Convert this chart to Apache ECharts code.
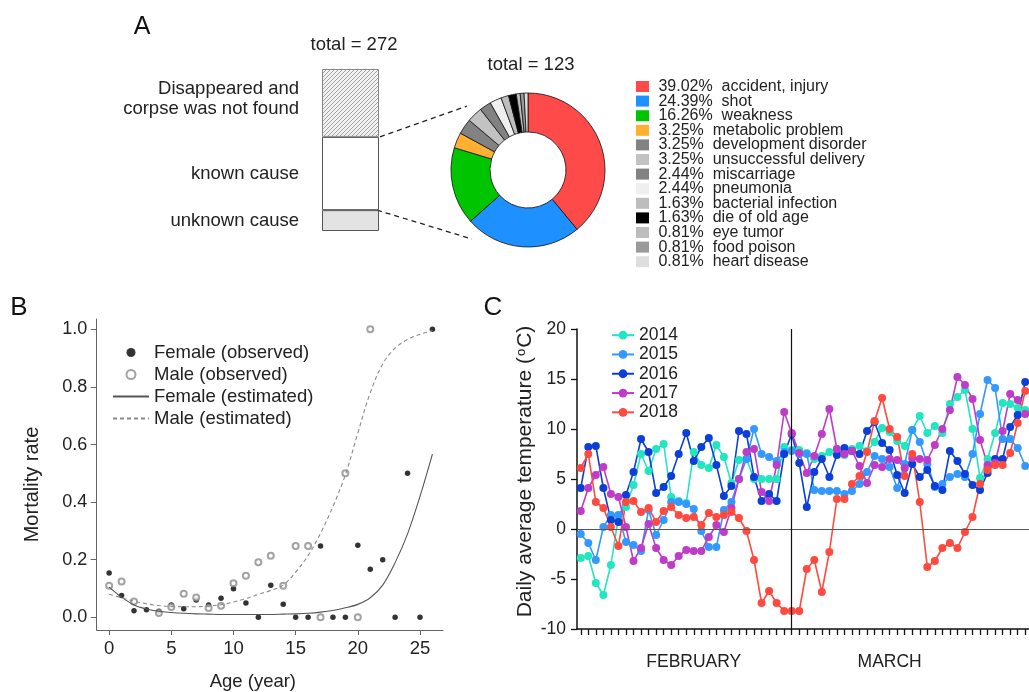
<!DOCTYPE html>
<html><head><meta charset="utf-8">
<script src="https://cdn.jsdelivr.net/npm/echarts@6/dist/echarts.min.js"></script>
<style>html,body{margin:0;padding:0;background:#fff}#c{width:1029px;height:692px}</style>
</head><body><div id="c"></div>
<script>
// ---------- Panel A data ----------
const fateNames = ['unknown cause', 'known cause', 'Disappeared and\ncorpse was not found'];
const fateCounts = [35, 123, 114];
const causeNames = ['accident, injury', 'shot', 'weakness', 'metabolic problem', 'development disorder',
  'unsuccessful delivery', 'miscarriage', 'pneumonia', 'bacterial infection', 'die of old age',
  'eye tumor', 'food poison', 'heart disease'];
const causePct = ['39.02%', '24.39%', '16.26%', '3.25%', '3.25%', '3.25%', '2.44%', '2.44%', '1.63%', '1.63%', '0.81%', '0.81%', '0.81%'];
const causeCounts = [48, 30, 20, 4, 4, 4, 3, 3, 2, 2, 1, 1, 1];
const causeColors = ['#ff4a4a', '#1e90ff', '#00c400', '#ffb032', '#828282', '#c2c2c2', '#828282', '#efefef', '#bdbdbd', '#000000', '#bdbdbd', '#9a9a9a', '#dedede'];

// ---------- Panel B data ----------
const femaleAges = [0, 1, 2, 3, 4, 5, 6, 7, 8, 9, 10, 11, 12, 13, 14, 15, 16, 17, 18, 19, 20, 21, 22, 23, 24, 25, 26];
const femaleRates = [0.154, 0.076, 0.023, 0.026, 0.021, 0.043, 0.030, 0.060, 0.043, 0.066, 0.099, 0.050, 0, 0.111, 0.045, 0, 0, 0.248, 0, 0, 0.25, 0.167, 0.2, 0, 0.5, 0, 1.0];
const maleAges = [0, 1, 2, 4, 5, 6, 7, 8, 9, 10, 11, 12, 13, 14, 15, 16, 17, 19, 20, 21];
const maleRates = [0.110, 0.124, 0.055, 0.015, 0.036, 0.082, 0.069, 0.032, 0.040, 0.118, 0.144, 0.191, 0.214, 0.110, 0.248, 0.248, 0, 0.5, 0, 1.0];
const curveAges = [0, 1, 2, 3, 4, 5, 6, 7, 8, 9, 10, 11, 12, 13, 14, 15, 16, 17, 18, 19, 20, 21, 22, 23, 24, 25, 26];
const femaleEst = [0.105, 0.070, 0.043, 0.029, 0.021, 0.017, 0.014, 0.012, 0.011, 0.010, 0.010, 0.010, 0.010, 0.010, 0.011, 0.012, 0.014, 0.018, 0.024, 0.033, 0.045, 0.068, 0.112, 0.190, 0.290, 0.420, 0.567];
const maleEst = [0.080, 0.068, 0.056, 0.047, 0.041, 0.038, 0.037, 0.037, 0.039, 0.044, 0.053, 0.065, 0.080, 0.093, 0.112, 0.157, 0.215, 0.292, 0.385, 0.495, 0.640, 0.780, 0.880, 0.935, 0.965, 0.983, 0.995];
const bAgeTicks = [0, 5, 10, 15, 20, 25];
const bRateTicks = [0, 0.2, 0.4, 0.6, 0.8, 1];

// ---------- Panel C data ----------
const dayLabels = [];
for (let d = 1; d <= 29; d++) dayLabels.push('Feb ' + d);
for (let d = 1; d <= 31; d++) dayLabels.push('Mar ' + d);
const monthLabels = ['FEBRUARY', 'MARCH'];
const monthLabelDays = ['Feb 16', 'Mar 13'];
const monthSeparator = 'Feb 29';
const years = ['2014', '2015', '2016', '2017', '2018'];
const t2014 = [-2.9, -2.7, -5.4, -6.6, -3.6, 1.2, 2.2, 4.4, 7.5, 5.8, 8.0, 8.5, 3.2, 2.8, 2.6, 7.7, 6.4, 6.1, 8.4, 7.2, 4.6, 6.9, 7.0, 5.0, 5.0, 5.0, 5.0, 8.2, 7.9, 7.9, 7.6, 7.0, 7.3, 7.7, 8.0, 7.4, 8.0, 8.3, 7.8, 8.7, 10.1, 9.7, 8.8, 8.3, 9.9, 11.3, 9.6, 10.3, 9.6, 12.5, 13.2, 13.9, 10.0, 5.1, 7.0, 9.6, 12.6, 12.5, 12.1, 11.9];
const t2015 = [-0.5, -1.4, -3.1, 0.2, 1.4, 1.4, -1.3, -1.6, -2.2, 1.9, -0.6, 0.9, 2.7, 2.7, 2.5, 2.0, -0.2, -1.8, -1.8, 1.9, 2.7, 5.0, 7.0, 10.0, 7.5, 7.2, 6.8, 7.7, 7.8, 7.5, 7.5, 3.9, 3.8, 3.8, 3.8, 3.5, 3.8, 4.5, 5.7, 7.3, 7.0, 6.2, 4.1, 6.5, 9.9, 8.7, 6.5, 4.2, 4.5, 5.2, 5.5, 5.2, 7.5, 11.5, 14.9, 14.1, 9.0, 9.0, 8.1, 6.3];
const t2016 = [4.1, 8.2, 8.3, 4.1, 0.9, 0.7, 3.4, 5.7, 9.0, 7.7, 3.6, 4.2, 5.3, 7.5, 9.6, 6.8, 8.2, 9.1, 6.4, 3.3, 4.3, 9.8, 9.5, 5.2, 2.8, 3.5, 2.8, 7.5, 9.5, 6.6, 2.2, 5.7, 7.0, 5.2, 7.4, 8.1, 7.8, 7.5, 9.8, 10.7, 8.6, 7.9, 5.4, 3.6, 6.5, 5.2, 5.9, 4.3, 3.9, 7.8, 6.8, 5.5, 4.4, 3.9, 5.6, 7.0, 7.0, 10.2, 11.4, 14.7];
const t2017 = [1.8, 4.1, 5.4, 6.2, 3.5, 3.2, 0.2, -3.2, -1.9, 0.5, -1.9, -3.1, -3.6, -2.7, -2.1, -2.2, -2.2, -0.8, 0.4, -0.3, 2.1, 5.0, 7.7, 8.0, 3.7, 2.8, 6.4, 11.7, 9.6, 7.6, 5.6, 7.3, 9.5, 12.0, 8.0, 7.5, 7.8, 6.3, 4.6, 6.4, 6.2, 7.0, 6.9, 6.1, 7.1, 7.0, 6.9, 8.4, 10.0, 11.9, 15.2, 14.4, 13.0, 8.9, 6.4, 6.6, 9.8, 13.5, 12.9, 11.5];
const t2018 = [6.1, 7.5, 2.7, 2.1, 0.2, -1.7, 2.7, 2.8, 1.7, 2.1, 0.7, 1.8, 2.2, 1.4, 1.1, 1.2, 0.4, 1.6, 1.2, 1.4, 1.7, 1.1, -0.2, -3.1, -7.4, -6.2, -7.4, -8.2, -8.2, -8.2, -4.0, -3.1, -6.3, -2.3, 3.0, 3.0, 4.5, 5.3, 7.7, 10.8, 13.1, 10.0, 9.2, 5.3, 7.5, 2.7, -3.8, -3.2, -1.9, -1.4, -1.9, -0.3, 1.2, 4.5, 5.9, 6.4, 6.4, 7.6, 10.6, 13.8];
const tempSeries = [t2014, t2015, t2016, t2017, t2018];
const yearColors = ['#22e6bf', '#3399ff', '#0b3fd8', '#bf3cc9', '#ff4a40'];

// ---------- style ----------
const FONT = "'Liberation Sans', Arial, Helvetica, sans-serif";
const TXT = '#222';

const hatch = document.createElement('canvas');
hatch.width = 4; hatch.height = 4;
(function () {
  const g = hatch.getContext('2d');
  g.fillStyle = '#f1f1f1'; g.fillRect(0, 0, 4, 4);
  g.strokeStyle = '#a3a3a3'; g.lineWidth = 1;
  g.beginPath();
  g.moveTo(0, 4); g.lineTo(4, 0);
  g.moveTo(-2, 2); g.lineTo(2, -2);
  g.moveTo(2, 6); g.lineTo(6, 2);
  g.stroke();
})();
const fateStyles = [
  { color: '#e3e3e3', borderColor: '#555', borderWidth: 1 },
  { color: '#ffffff', borderColor: '#555', borderWidth: 1 },
  { color: { image: hatch, repeat: 'repeat' }, borderColor: '#888', borderWidth: 1 }
];

const chart = echarts.init(document.getElementById('c'), null, { renderer: 'canvas' });

const series = [];
// Panel A bar
fateNames.forEach((n, i) => {
  series.push({
    type: 'bar', name: n, stack: 'fate', xAxisIndex: 0, yAxisIndex: 0,
    barWidth: '100%', silent: true,
    data: [fateCounts[i]],
    itemStyle: fateStyles[i],
    label: {
      show: true, position: 'left', distance: 23, formatter: n,
      fontSize: 18.5, lineHeight: 20, color: TXT, fontFamily: FONT, align: 'right',
      offset: i === 2 ? [0, -4] : [0, 0]
    }
  });
});
// Panel A donut
series.push({
  type: 'pie', name: 'causes', center: [528, 170], radius: [38, 77],
  startAngle: 90, clockwise: true, silent: true,
  label: { show: false }, labelLine: { show: false },
  itemStyle: { borderColor: '#111', borderWidth: 0.8 },
  data: causeNames.map((n, i) => ({ name: n, value: causeCounts[i], itemStyle: { color: causeColors[i] } }))
});
// Panel B
series.push({
  type: 'line', name: 'Female (estimated)', xAxisIndex: 1, yAxisIndex: 1,
  data: curveAges.map((a, i) => [a, femaleEst[i]]),
  smooth: 0.35, symbol: 'none', silent: true,
  lineStyle: { color: '#555', width: 1.1 }, itemStyle: { color: '#555' }
});
series.push({
  type: 'line', name: 'Male (estimated)', xAxisIndex: 1, yAxisIndex: 1,
  data: curveAges.map((a, i) => [a, maleEst[i]]),
  smooth: 0.35, symbol: 'none', silent: true,
  lineStyle: { color: '#8a8a8a', width: 1.1, type: [4, 3] }, itemStyle: { color: '#8a8a8a' }
});
series.push({
  type: 'scatter', name: 'Female (observed)', xAxisIndex: 1, yAxisIndex: 1,
  data: femaleAges.map((a, i) => [a, femaleRates[i]]),
  symbol: 'circle', symbolSize: 5.5, silent: true, itemStyle: { color: '#000' }
});
series.push({
  type: 'scatter', name: 'Male (observed)', xAxisIndex: 1, yAxisIndex: 1,
  data: maleAges.map((a, i) => [a, maleRates[i]]),
  symbol: 'emptyCircle', symbolSize: 6, silent: true, itemStyle: { color: '#8c8c8c', borderWidth: 1 }
});
// Panel C
years.forEach((y, k) => {
  const s = {
    type: 'line', name: y, xAxisIndex: 2, yAxisIndex: 2,
    data: tempSeries[k], symbol: 'circle', symbolSize: 8, showAllSymbol: true, silent: true,
    lineStyle: { color: yearColors[k], width: 1.6 }, itemStyle: { color: yearColors[k] }
  };
  if (k === 0) {
    s.markLine = {
      silent: true, symbol: ['none', 'none'], label: { show: false },
      data: [
        { yAxis: 0, lineStyle: { color: '#555', width: 1.2, type: 'solid' } },
        { xAxis: monthSeparator, lineStyle: { color: '#111', width: 1.2, type: 'solid' } }
      ]
    };
  }
  series.push(s);
});

const option = {
  animation: false,
  backgroundColor: '#fff',
  textStyle: { fontFamily: FONT },
  grid: [
    { left: 322, top: 69, width: 57, height: 162 },
    { left: 96.7, top: 319, width: 346.3, height: 312.7 },
    { left: 577, top: 329, width: 454.2, height: 300 }
  ],
  xAxis: [
    { gridIndex: 0, type: 'category', data: ['all'], show: false },
    {
      gridIndex: 1, type: 'value', min: -1.0, max: 26.85,
      axisLine: { show: true, onZero: false, lineStyle: { color: '#666', width: 1 } },
      axisTick: { show: true, length: 5, customValues: bAgeTicks, lineStyle: { color: '#666' } },
      axisLabel: { customValues: bAgeTicks, fontSize: 18.5, color: TXT, margin: 9, fontFamily: FONT },
      splitLine: { show: false },
      name: 'Age (year)', nameLocation: 'middle', nameGap: 42,
      nameTextStyle: { fontSize: 18.5, color: TXT, fontFamily: FONT, padding: [0, 34, 0, 0] }
    },
    {
      gridIndex: 2, type: 'category', data: dayLabels, boundaryGap: true,
      axisLine: { show: true, onZero: false, lineStyle: { color: '#111', width: 1.5 } },
      axisTick: { show: true, alignWithLabel: true, interval: 0, length: 6, lineStyle: { color: '#111', width: 1.3 } },
      axisLabel: {
        interval: (idx, val) => monthLabelDays.indexOf(val) >= 0,
        formatter: (val) => monthLabels[monthLabelDays.indexOf(val)] || '',
        margin: 24, fontSize: 17.5, color: TXT, fontFamily: FONT
      },
      splitLine: { show: false }
    }
  ],
  yAxis: [
    { gridIndex: 0, type: 'value', min: 0, max: 272, show: false },
    {
      gridIndex: 1, type: 'value', min: -0.044, max: 1.036,
      axisLine: { show: true, onZero: false, lineStyle: { color: '#666', width: 1 } },
      axisTick: { show: true, length: 6, customValues: bRateTicks, lineStyle: { color: '#666' } },
      axisLabel: { customValues: bRateTicks, formatter: (v) => v.toFixed(1), fontSize: 18, color: TXT, margin: 9.4, fontFamily: FONT },
      splitLine: { show: false },
      name: 'Mortality rate', nameLocation: 'middle', nameGap: 54,
      nameTextStyle: { fontSize: 20, color: TXT, fontFamily: FONT, padding: [0, 20, 0, 0] }
    },
    {
      gridIndex: 2, type: 'value', min: -10, max: 20, interval: 5,
      axisLine: { show: true, onZero: false, lineStyle: { color: '#111', width: 1.5 } },
      axisTick: { show: true, length: 6, lineStyle: { color: '#111', width: 1.3 } },
      axisLabel: { fontSize: 17.5, color: TXT, margin: 11, fontFamily: FONT },
      splitLine: { show: false },
      name: 'Daily average temperature ({sup|o}C)', nameLocation: 'middle', nameGap: 39,
      nameTextStyle: {
        fontSize: 21, color: TXT, fontFamily: FONT, padding: [0, 0, 0, 15],
        rich: { sup: { fontSize: 13, color: TXT, fontFamily: FONT, verticalAlign: 'top', lineHeight: 13, padding: [0, 1, 9, 1] } }
      }
    }
  ],
  legend: [
    {
      data: causeNames, orient: 'vertical', left: 631, top: 73.5,
      itemWidth: 13, itemHeight: 11, itemGap: -1.4, icon: 'rect', selectedMode: false,
      itemStyle: { borderWidth: 0 },
      formatter: (n) => ' ' + causePct[causeNames.indexOf(n)] + '  ' + n,
      textStyle: { fontSize: 16, lineHeight: 14.6, color: TXT, fontFamily: FONT }
    },
    {
      data: [
        { name: 'Female (observed)' },
        { name: 'Male (observed)' },
        { name: 'Female (estimated)', itemStyle: { opacity: 0 } },
        { name: 'Male (estimated)', itemStyle: { opacity: 0 } }
      ],
      orient: 'vertical', left: 107, top: 336.5, itemWidth: 36, itemHeight: 9, itemGap: 0, selectedMode: false,
      textStyle: { fontSize: 18.5, lineHeight: 22, color: TXT, fontFamily: FONT }
    },
    {
      data: years, orient: 'vertical', left: 606, top: 320.5, itemWidth: 22, itemHeight: 11, itemGap: 0, selectedMode: false,
      textStyle: { fontSize: 17.5, lineHeight: 19.3, color: TXT, fontFamily: FONT }
    }
  ],
  series: series
};
chart.setOption(option);

// annotations: panel letters, totals, connector lines from bar to donut
const knownTop = chart.convertToPixel({ gridIndex: 0 }, [0, fateCounts[0] + fateCounts[1]])[1];
const knownBottom = chart.convertToPixel({ gridIndex: 0 }, [0, fateCounts[0]])[1];
const barRight = 322 + 57;
chart.setOption({
  graphic: [
    { type: 'text', x: 142, y: 27, style: { text: 'A', fontSize: 25, fontFamily: FONT, fill: '#111', textAlign: 'center', textVerticalAlign: 'middle' } },
    { type: 'text', x: 19, y: 308, style: { text: 'B', fontSize: 26, fontFamily: FONT, fill: '#111', textAlign: 'center', textVerticalAlign: 'middle' } },
    { type: 'text', x: 493, y: 308, style: { text: 'C', fontSize: 26, fontFamily: FONT, fill: '#111', textAlign: 'center', textVerticalAlign: 'middle' } },
    { type: 'text', x: 354, y: 45, style: { text: 'total = 272', fontSize: 18.5, fontFamily: FONT, fill: TXT, textAlign: 'center', textVerticalAlign: 'middle' } },
    { type: 'text', x: 531, y: 65, style: { text: 'total = 123', fontSize: 18.5, fontFamily: FONT, fill: TXT, textAlign: 'center', textVerticalAlign: 'middle' } },
    { type: 'line', shape: { x1: barRight + 1, y1: knownTop, x2: 467, y2: 106 }, style: { stroke: '#222', lineWidth: 1.3, lineDash: [5, 4] }, silent: true },
    { type: 'line', shape: { x1: barRight - 2, y1: knownBottom, x2: 472, y2: 239 }, style: { stroke: '#222', lineWidth: 1.3, lineDash: [5, 4] }, silent: true }
  ]
});
</script>
</body></html>
